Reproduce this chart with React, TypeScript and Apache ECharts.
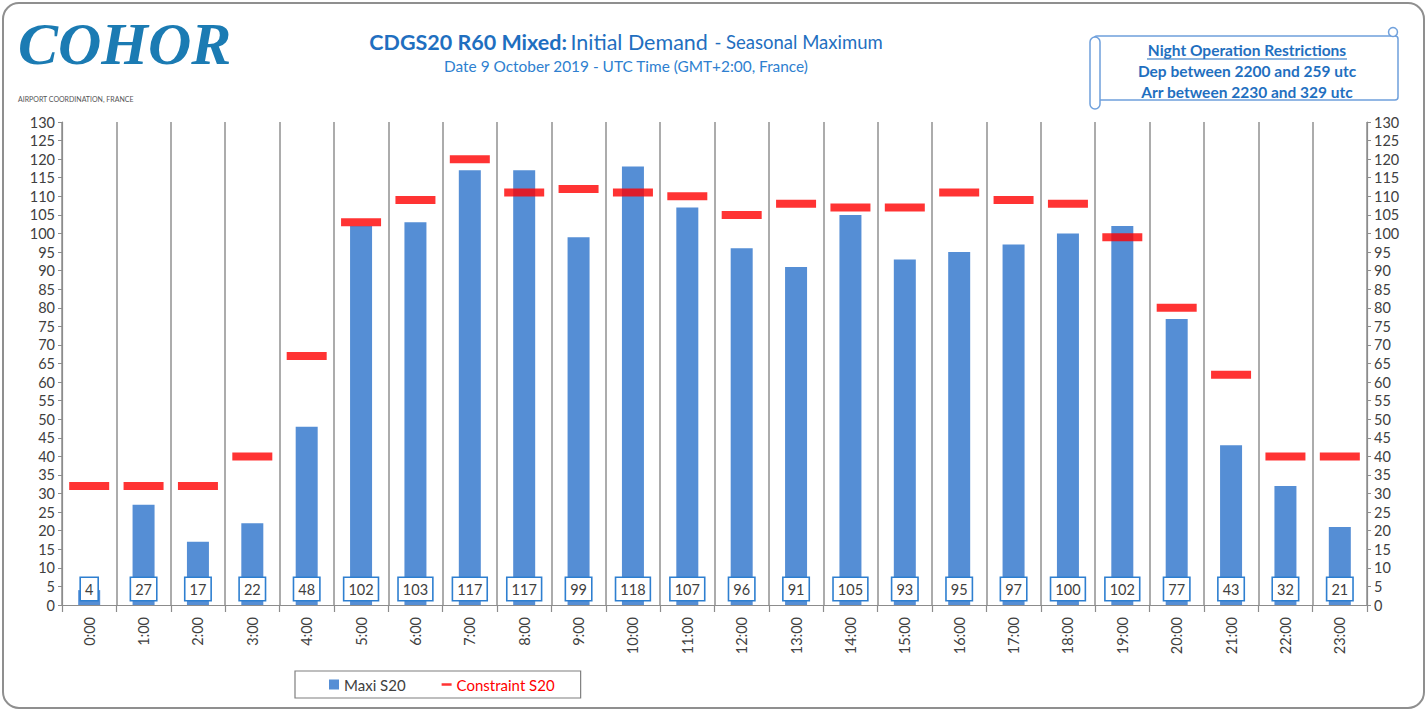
import React, { useEffect, useRef } from "react";
import * as echarts from "echarts";

const hours: string[] = [
  "0:00", "1:00", "2:00", "3:00", "4:00", "5:00", "6:00", "7:00", "8:00", "9:00", "10:00", "11:00",
  "12:00", "13:00", "14:00", "15:00", "16:00", "17:00", "18:00", "19:00", "20:00", "21:00", "22:00", "23:00",
];
const maxiS20: number[] = [4, 27, 17, 22, 48, 102, 103, 117, 117, 99, 118, 107, 96, 91, 105, 93, 95, 97, 100, 102, 77, 43, 32, 21];
const constraintS20: number[] = [32, 32, 32, 40, 67, 103, 109, 120, 111, 112, 111, 110, 105, 108, 107, 107, 111, 109, 108, 99, 80, 62, 40, 40];
const yTickMin = 0;
const yTickMax = 130;
const yTickStep = 5;
const restrictionLines: string[] = [
  "Night Operation Restrictions",
  "Dep between 2200 and 259 utc",
  "Arr between 2230 and 329 utc",
];

const FONT = "Lato, 'Open Sans', sans-serif";
const BLUE_TXT = "#1f6fc0";
const BAR = "#558ed5";

export default function App() {
  const ref = useRef<HTMLDivElement>(null);
  useEffect(() => {
    if (!ref.current) return;
    const chart = echarts.init(ref.current, undefined, { renderer: "svg" });
    const yAxisCommon = {
      type: "value" as const,
      min: yTickMin,
      max: yTickMax,
      interval: yTickStep,
      splitLine: { show: false },
      axisLine: { show: true, lineStyle: { color: "#8c8c8c", width: 1.2 } },
      axisTick: { show: true, length: 4, lineStyle: { color: "#8c8c8c" } },
      axisLabel: { color: "#404040", fontSize: 14.5, fontFamily: FONT, margin: 7 },
    };
    chart.setOption({
      animation: false,
      backgroundColor: "#ffffff",
      textStyle: { fontFamily: FONT },
      grid: { left: 62, right: 60, top: 122, bottom: 106, containLabel: false },
      legend: {
        left: 295,
        top: 671,
        height: 27,
        padding: [6, 26, 6, 34],
        borderColor: "#7f7f7f",
        borderWidth: 1.2,
        itemGap: 36,
        itemWidth: 10,
        itemHeight: 10,
        textStyle: { fontSize: 15, fontFamily: FONT, color: "#404040" },
        data: [
          { name: "Maxi S20", icon: "rect" },
          { name: "Constraint S20", icon: "path://M0,0H12V3H0Z", textStyle: { color: "#ff0000" } },
        ],
      },
      xAxis: {
        type: "category",
        data: hours,
        boundaryGap: true,
        axisLine: { show: true, lineStyle: { color: "#8c8c8c", width: 1.2 } },
        axisTick: { show: true, length: 7, lineStyle: { color: "#8c8c8c", width: 1.2 } },
        splitLine: { show: true, lineStyle: { color: "#909090", width: 1.5 } },
        axisLabel: { rotate: 90, color: "#404040", fontSize: 14.5, fontFamily: FONT, margin: 12 },
      },
      yAxis: [
        { ...yAxisCommon, position: "left" },
        { ...yAxisCommon, position: "right" },
      ],
      series: [
        {
          name: "Maxi S20",
          type: "bar",
          data: maxiS20,
          barWidth: 22,
          itemStyle: { color: BAR },
          label: {
            show: true,
            position: "insideBottom",
            distance: 5,
            formatter: "{c}",
            color: "#404040",
            fontSize: 14.5,
            fontFamily: FONT,
            backgroundColor: "#ffffff",
            borderColor: "#2e7fd0",
            borderWidth: 1.6,
            padding: [4, 4, 3, 4],
          },
          z: 2,
        },
        {
          name: "Constraint S20",
          type: "scatter",
          data: constraintS20,
          symbol: "rect",
          symbolSize: [40, 8],
          itemStyle: { color: "#ff0000" },
          z: 5,
        },
      ],
      graphic: [
        {
          type: "rect",
          shape: { x: 3, y: 3, width: 1421, height: 705, r: 16 },
          style: { fill: "none", stroke: "#8f8f8f", lineWidth: 2 },
          silent: true,
        },
        {
          type: "text",
          x: 18,
          y: 14,
          style: {
            text: "COHOR",
            font: "italic bold 60px 'Liberation Serif', serif",
            fill: "#1b7bb3",
          },
        },
        {
          type: "text",
          x: 18,
          y: 95,
          style: { text: "AIRPORT COORDINATION, FRANCE", font: "7px " + FONT, fill: "#555555" },
        },
        {
          type: "text",
          x: 626,
          y: 42,
          style: {
            text: "{b|CDGS20 R60 Mixed:} {n|Initial Demand}  {s|- Seasonal Maximum}",
            align: "center",
            verticalAlign: "middle",
            rich: {
              b: { fontSize: 21.5, fontWeight: "bold", fill: BLUE_TXT, fontFamily: FONT },
              n: { fontSize: 21.5, fill: BLUE_TXT, fontFamily: FONT },
              s: { fontSize: 18.5, fill: BLUE_TXT, fontFamily: FONT },
            },
          },
        },
        {
          type: "text",
          x: 626,
          y: 66,
          style: {
            text: "Date 9 October 2019 - UTC Time (GMT+2:00, France)",
            align: "center",
            verticalAlign: "middle",
            font: "15.4px " + FONT,
            fill: "#2e7fd0",
          },
        },
        {
          type: "rect",
          shape: { x: 1094, y: 36, width: 304, height: 64, r: 3 },
          style: { fill: "#ffffff", stroke: "#6fa0dc", lineWidth: 1.5 },
        },
        {
          type: "rect",
          shape: { x: 1090, y: 37, width: 10, height: 72, r: 5 },
          style: { fill: "#ffffff", stroke: "#6fa0dc", lineWidth: 1.5 },
        },
        {
          type: "circle",
          shape: { cx: 1393, cy: 32, r: 4.5 },
          style: { fill: "#ffffff", stroke: "#6fa0dc", lineWidth: 1.5 },
        },
        {
          type: "text",
          x: 1247,
          y: 50,
          style: {
            text: restrictionLines[0],
            align: "center",
            verticalAlign: "middle",
            font: "bold 15.5px " + FONT,
            fill: BLUE_TXT,
          },
        },
        {
          type: "line",
          shape: { x1: 1147, y1: 59, x2: 1347, y2: 59 },
          style: { stroke: BLUE_TXT, lineWidth: 1.2 },
        },
        {
          type: "text",
          x: 1247,
          y: 71,
          style: {
            text: restrictionLines[1],
            align: "center",
            verticalAlign: "middle",
            font: "bold 15.5px " + FONT,
            fill: BLUE_TXT,
          },
        },
        {
          type: "text",
          x: 1247,
          y: 92,
          style: {
            text: restrictionLines[2],
            align: "center",
            verticalAlign: "middle",
            font: "bold 15.5px " + FONT,
            fill: BLUE_TXT,
          },
        },
      ],
    });
    return () => chart.dispose();
  }, []);
  return (
    <div
      ref={ref}
      style={{ position: "fixed", left: 0, top: 0, width: 1427, height: 711, background: "#fff" }}
    />
  );
}
